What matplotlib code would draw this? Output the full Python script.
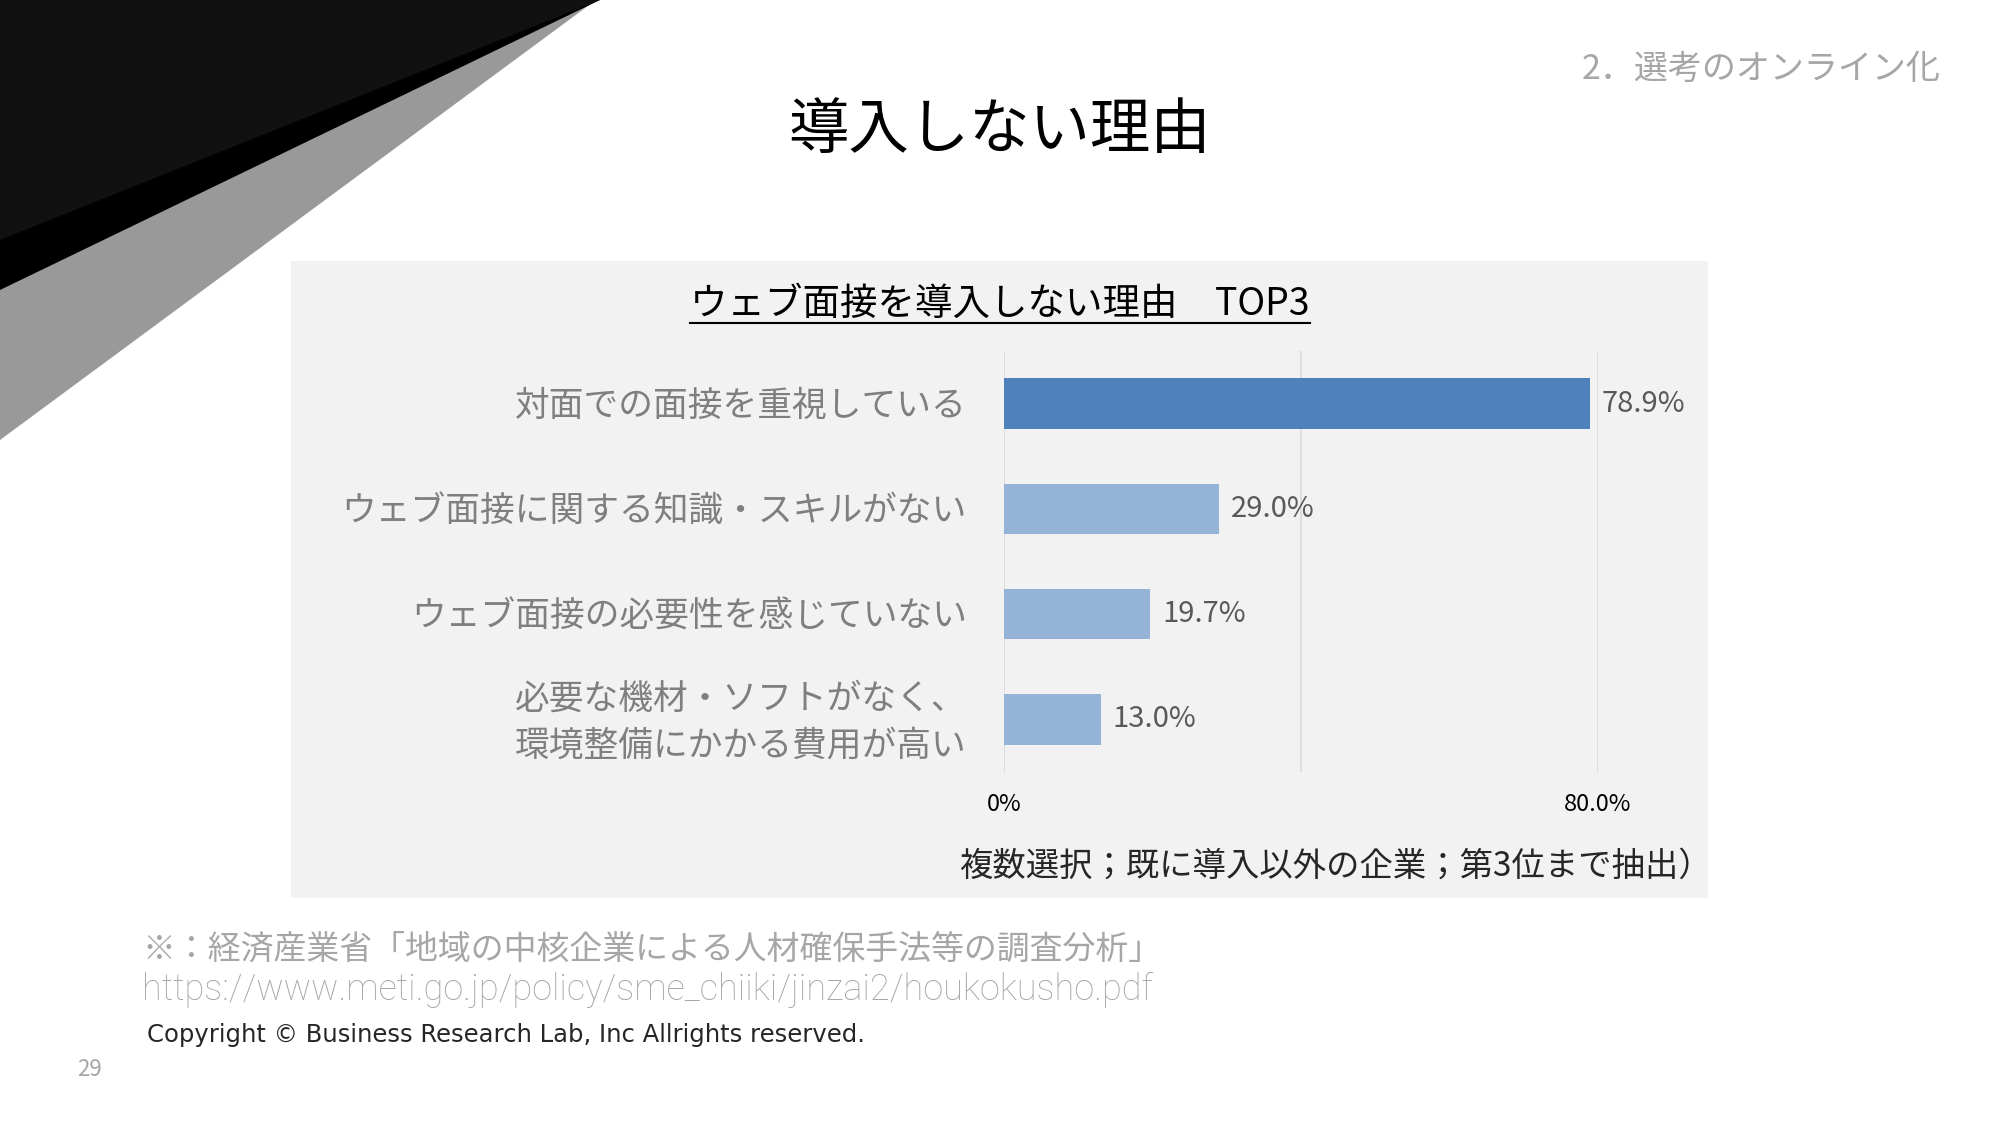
import numpy as np
import matplotlib.pyplot as plt
from matplotlib.patches import Polygon, Rectangle
from matplotlib.ticker import FixedLocator
from matplotlib.transforms import offset_copy

plt.rcParams['font.family'] = ['Noto Sans CJK JP', 'DejaVu Sans']

# data
reasons = ['対面での面接を重視している',
           'ウェブ面接に関する知識・スキルがない',
           'ウェブ面接の必要性を感じていない',
           '必要な機材・ソフトがなく、\n環境整備にかかる費用が高い']
shares = [78.9, 29.0, 19.7, 13.0]
bar_colors = ['#4F81BD', '#95B3D7', '#95B3D7', '#95B3D7']
x_ticks = [0, 80]
x_tick_labels = ['0%', '80.0%']

title = '導入しない理由'
section = '2．選考のオンライン化'
chart_title = 'ウェブ面接を導入しない理由　TOP3'
chart_note = '複数選択；既に導入以外の企業；第3位まで抽出）'
source1 = '※：経済産業省「地域の中核企業による人材確保手法等の調査分析」'
source2 = 'https://www.meti.go.jp/policy/sme_chiiki/jinzai2/houkokusho.pdf'
copyright_txt = 'Copyright © Business Research Lab, Inc Allrights reserved.'
page_no = '29'

W, H = 2000, 1125
fig = plt.figure(figsize=(W / 100, H / 100), dpi=100)

# background layer in pixel coords (y down)
bg = fig.add_axes([0, 0, 1, 1])
bg.set_xlim(0, W)
bg.set_ylim(H, 0)
bg.axis('off')
bg.add_patch(Polygon([(0, 0), (596, 0), (0, 440)], closed=True, color='#999999', lw=0))
bg.add_patch(Polygon([(0, 0), (600, 0), (0, 290)], closed=True, color='#000000', lw=0))
bg.add_patch(Polygon([(0, 0), (600, 0), (0, 240)], closed=True, color='#111111', lw=0))
bg.add_patch(Rectangle((291, 261), 1417, 637, color='#F2F2F2', lw=0))

bg.text(1000, 131, title, fontsize=43.5, color='#000000', ha='center', va='center')
bg.text(1941, 69, section, fontsize=24.5, color='#A6A6A6', ha='right', va='center')
bg.text(1000, 304, chart_title, fontsize=27, color='#000000', ha='center', va='center')
bg.plot([690, 1310], [323, 323], color='#000000', lw=1.5)
bg.text(1712, 866, chart_note, fontsize=24, color='#262626', ha='right', va='center')
bg.text(142, 950, source1, fontsize=23.7, color='#A6A6A6', ha='left', va='center')
bg.text(142, 990, source2, fontsize=26, color='#A6A6A6', ha='left', va='center',
        family=['Roboto', 'DejaVu Sans'], fontweight='light')
bg.text(147, 1035, copyright_txt, fontsize=17.5, color='#262626', ha='left', va='center',
        family=['DejaVu Sans'])
bg.text(89, 1069, page_no, fontsize=16, color='#A6A6A6', ha='center', va='center')

# chart
ax = fig.add_axes([1004 / W, 1 - 772 / H, 594 / W, 421 / H])
ax.patch.set_alpha(0)
y = np.arange(len(reasons))
bars = ax.barh(y, shares, height=0.48, color=bar_colors, zorder=3)
ax.set_xlim(0, 80)
ax.set_ylim(len(reasons) - 0.5, -0.5)

for yy, v in zip(y, shares):
    ax.text(v + 1.6, yy, f'{v:.1f}%', fontsize=21, color='#595959',
            ha='left', va='center', clip_on=False)

# category labels, right aligned left of the axis
lab_tr = offset_copy(ax.transData, fig=fig, x=-37, y=-3, units='dots')
for yy, name in zip(y, reasons):
    ax.text(0, yy, name, transform=lab_tr, fontsize=25, color='#7F7F7F',
            ha='right', va='center', multialignment='center',
            linespacing=1.42, clip_on=False)

ax.set_xticks(x_ticks)
ax.set_xticklabels(x_tick_labels, fontsize=17, color='#000000')
ax.xaxis.set_minor_locator(FixedLocator([40]))
ax.grid(axis='x', which='both', color='#D9D9D9', lw=1.2, zorder=0)
ax.tick_params(axis='x', which='both', length=0, pad=15)
ax.set_yticks([])

for s in ax.spines.values():
    s.set_visible(False)

fig.savefig('out.png', dpi=100)
